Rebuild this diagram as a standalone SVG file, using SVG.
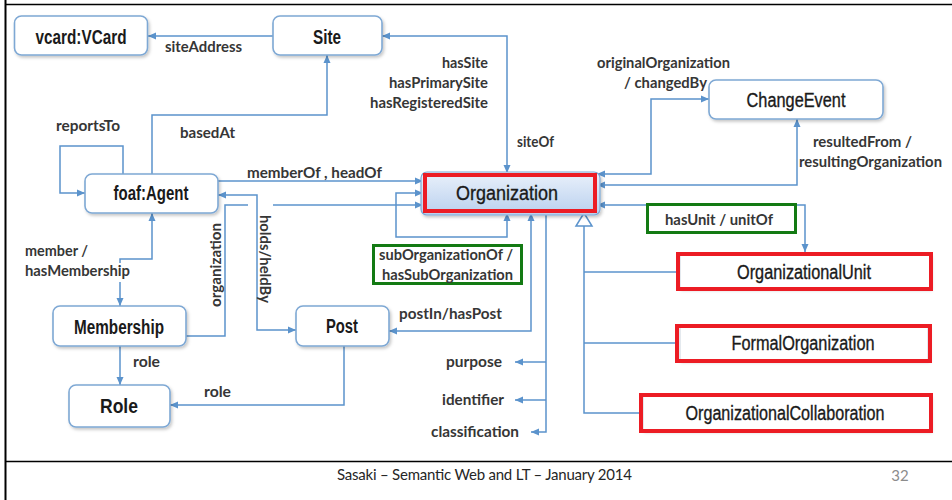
<svg xmlns="http://www.w3.org/2000/svg" width="952" height="500" viewBox="0 0 952 500">
  <defs>
    <style>
      .node rect.box { fill: #ffffff; stroke: #7ea8d4; stroke-width: 1.6; filter: url(#shadow); }
      .node text { font-family: "Liberation Sans", Arial, sans-serif; fill: #1a1a1a; text-anchor: middle; }
      .bold { font-weight: bold; font-size: 20px; }
      .reg { font-weight: normal; font-size: 20px; stroke: #1a1a1a; stroke-width: 0.35; }
      .hl { fill: none; stroke: #ec1c24; stroke-width: 4; }
      .grn { fill: #ffffff; stroke: #137a13; stroke-width: 3; }
      .lbl { font-family: Lato, "Open Sans", sans-serif; font-weight: bold; font-size: 15px; fill: #363636; }
      .end { text-anchor: end; }
      .mid { text-anchor: middle; }
      .foot { font-family: Lato, "Open Sans", sans-serif; font-size: 15px; fill: #262626; }
    </style>
    <marker id="arr" viewBox="0 0 8 8" refX="8" refY="4" markerWidth="8" markerHeight="8" markerUnits="userSpaceOnUse" orient="auto-start-reverse">
      <path d="M0,0.5 L8,4 L0,7.5 z" fill="#5b93cc"/>
    </marker>
    <filter id="shadow" x="-10%" y="-20%" width="125%" height="160%">
      <feDropShadow dx="1.5" dy="2" stdDeviation="1.5" flood-color="#000" flood-opacity="0.22"/>
    </filter>
    <linearGradient id="orgFill" x1="0" y1="0" x2="0" y2="1">
      <stop offset="0" stop-color="#eaf1fb"/>
      <stop offset="1" stop-color="#b9d0ee"/>
    </linearGradient>
  </defs>

  <rect width="952" height="500" fill="#ffffff"/>

  <!-- slide frame and footer rule -->
  <g id="frame" stroke="#000" fill="none">
    <path d="M5,4.5 H952" stroke-width="1.5"/>
    <path d="M5.5,0 V500" stroke-width="2"/>
    <path d="M5,461.5 H952" stroke-width="1.3"/>
  </g>

  <!-- connectors -->
  <g id="connectors" fill="none" stroke="#5b93cc" stroke-width="1.5">
    <path d="M273,36 H148" marker-end="url(#arr)"/>
    <path d="M382,36 H507 V173" marker-start="url(#arr)" marker-end="url(#arr)"/>
    <path d="M152,174 V115 H327 V55" marker-end="url(#arr)"/>
    <path d="M123,174 V146 H60 V193 H85" marker-end="url(#arr)"/>
    <path d="M218,181 H423" marker-end="url(#arr)"/>
    <path d="M218,195 H257 V330 H296" marker-start="url(#arr)" marker-end="url(#arr)"/>
    <path d="M186,336 H225 V205 H248"/>
    <path d="M273,205 H423" marker-end="url(#arr)"/>
    <path d="M152,213 V259 H120 V306" marker-start="url(#arr)" marker-end="url(#arr)"/>
    <path d="M120,346 V385" marker-end="url(#arr)"/>
    <path d="M344,346 V405 H170" marker-end="url(#arr)"/>
    <path d="M531,213 V331 H389" marker-start="url(#arr)" marker-end="url(#arr)"/>
    <path d="M423,193 H396 V237 H507 V213" marker-start="url(#arr)" marker-end="url(#arr)"/>
    <path d="M546,213 V432 H531" marker-end="url(#arr)"/>
    <path d="M546,362 H515" marker-end="url(#arr)"/>
    <path d="M546,400 H515" marker-end="url(#arr)"/>
    <path d="M597,174 H651 V99 H709" marker-start="url(#arr)" marker-end="url(#arr)"/>
    <path d="M597,185 H797 V119" marker-start="url(#arr)" marker-end="url(#arr)"/>
    <path d="M597,205 H805 V252" marker-start="url(#arr)" marker-end="url(#arr)"/>
    <!-- subclass tree -->
    <path d="M584,225 V413 H639"/>
    <path d="M584,272 H676"/>
    <path d="M584,343 H675"/>
    <polygon points="584,213 576,226 592,226" fill="#ffffff"/>
  </g>

  <!-- nodes -->
  <g id="vcard" class="node">
    <rect class="box" x="14.5" y="16" width="133" height="39" rx="7"/>
    <text class="bold" x="81" y="43.5" textLength="91" lengthAdjust="spacingAndGlyphs">vcard:VCard</text>
  </g>
  <g id="site" class="node">
    <rect class="box" x="273" y="16" width="109" height="39" rx="7"/>
    <text class="bold" x="327" y="43.5" textLength="28" lengthAdjust="spacingAndGlyphs">Site</text>
  </g>
  <g id="changeEvent" class="node">
    <rect class="box" x="709" y="80" width="174" height="39" rx="7"/>
    <text class="reg" x="796" y="107" textLength="99" lengthAdjust="spacingAndGlyphs">ChangeEvent</text>
  </g>
  <g id="foafAgent" class="node">
    <rect class="box" x="85" y="174" width="133" height="39" rx="7"/>
    <text class="bold" x="151" y="200" textLength="75" lengthAdjust="spacingAndGlyphs">foaf:Agent</text>
  </g>
  <g id="membership" class="node">
    <rect class="box" x="53" y="306" width="133" height="40" rx="7"/>
    <text class="bold" x="119" y="334" textLength="90" lengthAdjust="spacingAndGlyphs">Membership</text>
  </g>
  <g id="post" class="node">
    <rect class="box" x="296" y="306" width="93" height="40" rx="7"/>
    <text class="bold" x="342" y="333" textLength="32" lengthAdjust="spacingAndGlyphs">Post</text>
  </g>
  <g id="role" class="node">
    <rect class="box" x="69" y="385" width="101" height="42" rx="7"/>
    <text class="bold" x="119" y="413" textLength="38" lengthAdjust="spacingAndGlyphs">Role</text>
  </g>
  <g id="organization" class="node">
    <rect x="421" y="172" width="179" height="43" rx="6" fill="url(#orgFill)" stroke="#7ea8d4" stroke-width="1.2" filter="url(#shadow)"/>
    <rect class="hl" x="425" y="175" width="170" height="36"/>
    <text class="reg" x="507" y="200" font-size="21" textLength="102" lengthAdjust="spacingAndGlyphs">Organization</text>
  </g>
  <g id="organizationalUnit" class="node">
    <rect x="680" y="255" width="250" height="33" fill="#ffffff" stroke="#c9d3de" stroke-width="1" filter="url(#shadow)"/>
    <rect class="hl" x="678" y="254" width="253" height="35"/>
    <text class="reg" x="804" y="279" font-size="19" textLength="134" lengthAdjust="spacingAndGlyphs">OrganizationalUnit</text>
  </g>
  <g id="formalOrganization" class="node">
    <rect x="680" y="327" width="248" height="33" fill="#ffffff" stroke="#c9d3de" stroke-width="1" filter="url(#shadow)"/>
    <rect class="hl" x="677" y="326" width="253" height="35"/>
    <text class="reg" x="803" y="350" font-size="19" textLength="143" lengthAdjust="spacingAndGlyphs">FormalOrganization</text>
  </g>
  <g id="organizationalCollaboration" class="node">
    <rect x="643" y="396" width="287" height="34" fill="#ffffff" stroke="#c9d3de" stroke-width="1" filter="url(#shadow)"/>
    <rect class="hl" x="641" y="395" width="290" height="36"/>
    <text class="reg" x="785" y="420" font-size="19" textLength="199" lengthAdjust="spacingAndGlyphs">OrganizationalCollaboration</text>
  </g>

  <!-- connector labels -->
  <g id="labels">
    <text class="lbl" x="165" y="52" textLength="77" lengthAdjust="spacingAndGlyphs">siteAddress</text>
    <text class="lbl end" x="488" y="68" textLength="46" lengthAdjust="spacingAndGlyphs">hasSite</text>
    <text class="lbl end" x="488" y="88" textLength="99" lengthAdjust="spacingAndGlyphs">hasPrimarySite</text>
    <text class="lbl end" x="488" y="108" textLength="118" lengthAdjust="spacingAndGlyphs">hasRegisteredSite</text>
    <text class="lbl" x="517" y="147" textLength="37" lengthAdjust="spacingAndGlyphs">siteOf</text>
    <text class="lbl" x="597" y="68" textLength="133" lengthAdjust="spacingAndGlyphs">originalOrganization</text>
    <text class="lbl end" x="707" y="88" textLength="83" lengthAdjust="spacingAndGlyphs">/ changedBy</text>
    <text class="lbl" x="813" y="147" textLength="99" lengthAdjust="spacingAndGlyphs">resultedFrom /</text>
    <text class="lbl" x="799" y="167" textLength="143" lengthAdjust="spacingAndGlyphs">resultingOrganization</text>
    <text class="lbl" x="56" y="131" textLength="64" lengthAdjust="spacingAndGlyphs">reportsTo</text>
    <text class="lbl" x="180" y="138" textLength="55" lengthAdjust="spacingAndGlyphs">basedAt</text>
    <text class="lbl" x="247" y="178" textLength="135" lengthAdjust="spacingAndGlyphs">memberOf , headOf</text>
    <text class="lbl" x="25" y="256" textLength="63" lengthAdjust="spacingAndGlyphs">member /</text>
    <rect x="24" y="263" width="108" height="19" fill="#ffffff"/>
    <text class="lbl" x="25" y="276" textLength="105" lengthAdjust="spacingAndGlyphs">hasMembership</text>
    <text class="lbl mid" transform="translate(221,265) rotate(-90)" font-size="14" textLength="84" lengthAdjust="spacingAndGlyphs">organization</text>
    <text class="lbl mid" transform="translate(260,259) rotate(90)" font-size="14" textLength="88" lengthAdjust="spacingAndGlyphs">holds/heldBy</text>
    <text class="lbl" x="399" y="319" textLength="103" lengthAdjust="spacingAndGlyphs">postIn/hasPost</text>
    <text class="lbl" x="133" y="367" textLength="27" lengthAdjust="spacingAndGlyphs">role</text>
    <text class="lbl" x="204" y="397" textLength="27" lengthAdjust="spacingAndGlyphs">role</text>
    <text class="lbl end" x="502" y="367" textLength="56" lengthAdjust="spacingAndGlyphs">purpose</text>
    <text class="lbl end" x="504" y="405" textLength="62" lengthAdjust="spacingAndGlyphs">identifier</text>
    <text class="lbl end" x="519" y="437" textLength="88" lengthAdjust="spacingAndGlyphs">classification</text>
  </g>

  <!-- highlighted property pairs -->
  <g id="subOrganizationOf">
    <rect class="grn" x="373.5" y="245.5" width="148" height="38"/>
    <text class="lbl" x="379" y="260" textLength="134" lengthAdjust="spacingAndGlyphs">subOrganizationOf /</text>
    <text class="lbl" x="382" y="280" textLength="131" lengthAdjust="spacingAndGlyphs">hasSubOrganization</text>
  </g>
  <g id="hasUnit">
    <rect class="grn" x="647.5" y="204.5" width="148" height="28"/>
    <text class="lbl" x="665" y="225" textLength="108" lengthAdjust="spacingAndGlyphs">hasUnit / unitOf</text>
  </g>

  <!-- footer -->
  <g id="footer">
    <text class="foot" x="337" y="480" textLength="295">Sasaki – Semantic Web and LT – January 2014</text>
    <text class="foot" x="900" y="481" text-anchor="middle" style="fill:#8c8c8c">32</text>
  </g>
</svg>
